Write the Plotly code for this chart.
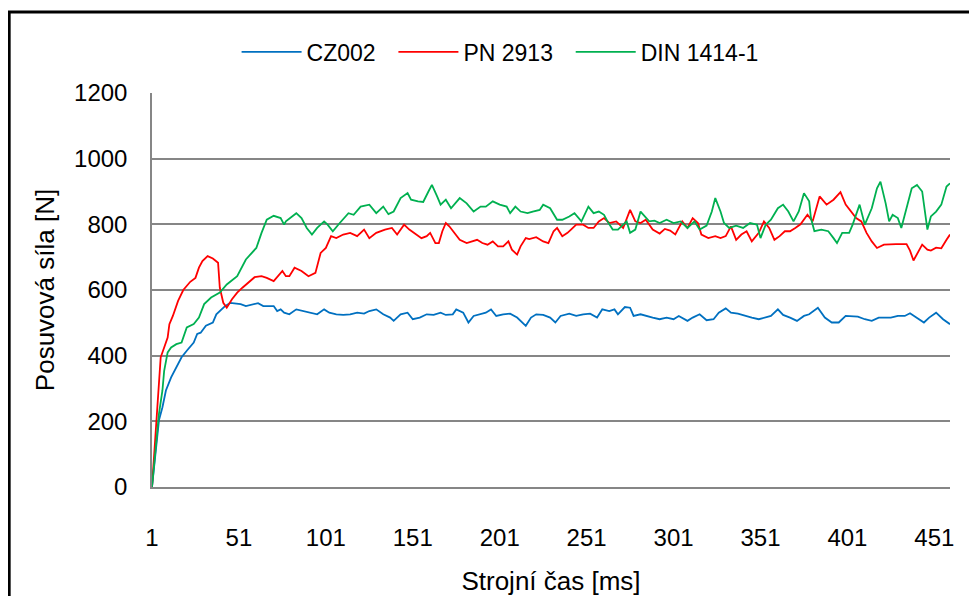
import plotly.graph_objects as go

# hodnoty (strojní čas v ms, posuvová síla v N)
cz002_t = [1, 3, 5, 7, 9, 12, 15, 18, 21, 25, 27, 29, 32, 36, 38, 43, 46, 52, 55, 61, 62, 65, 71, 73, 75, 77, 80,
           84, 88, 92, 96, 100, 103, 107, 111, 115, 119, 123, 126, 130, 134, 138, 140, 144, 148, 151, 155, 159, 163,
           167, 170, 174, 176, 180, 183, 186, 190, 193, 196, 199, 203, 207, 211, 216, 219, 222, 226, 230, 233, 236,
           241, 245, 249, 253, 257, 260, 264, 267, 269, 273, 276, 278, 282, 285, 289, 293, 297, 301, 304, 309, 312,
           316, 320, 324, 327, 331, 334, 338, 342, 346, 350, 354, 357, 361, 364, 368, 372, 376, 379, 384, 388, 392,
           396, 400, 403, 407, 411, 415, 419, 423, 426, 430, 434, 437, 441, 445, 448, 452, 456, 460]
cz002_f = [0, 102, 203, 243, 294, 334, 364, 395, 415, 440, 466, 470, 491, 501, 526, 551, 561, 557, 551, 557, 560, 551,
           551, 536, 541, 531, 526, 541, 536, 531, 526, 541, 531, 526, 524, 526, 531, 528, 536, 541, 526, 516, 506,
           526, 531, 511, 516, 526, 524, 531, 524, 526, 541, 531, 501, 521, 526, 531, 541, 521, 526, 528, 516, 491,
           516, 526, 524, 516, 501, 521, 528, 521, 526, 528, 516, 541, 536, 541, 526, 548, 546, 521, 526, 521, 516,
           511, 516, 511, 521, 506, 516, 526, 508, 511, 531, 544, 531, 528, 521, 516, 511, 516, 521, 541, 524, 516,
           506, 521, 526, 546, 516, 501, 501, 521, 521, 519, 511, 506, 516, 516, 516, 521, 521, 529, 516, 501, 516,
           531, 511, 496]

pn2913_t = [1, 3, 5, 6, 8, 10, 11, 13, 16, 19, 23, 26, 28, 30, 33, 36, 39, 40, 42, 44, 47, 50, 53, 56, 60, 64, 67,
            71, 74, 76, 78, 80, 83, 87, 91, 95, 98, 101, 104, 107, 111, 115, 119, 123, 126, 130, 135, 139, 142, 146,
            149, 153, 156, 159, 161, 164, 166, 168, 170, 172, 175, 178, 182, 185, 188, 191, 194, 197, 200, 203, 206,
            208, 211, 213, 216, 218, 222, 226, 229, 232, 234, 237, 240, 242, 245, 249, 252, 255, 258, 261, 264, 268,
            272, 276, 279, 282, 285, 289, 293, 296, 299, 302, 306, 309, 312, 315, 317, 321, 325, 328, 331, 334, 337,
            340, 343, 346, 350, 353, 356, 359, 362, 365, 368, 371, 374, 378, 381, 385, 389, 393, 397, 400, 403, 406,
            409, 412, 415, 418, 422, 426, 429, 435, 437, 439, 442, 444, 447, 449, 452, 455, 458, 460]
pn2913_f = [0, 173, 344, 395, 425, 455, 496, 521, 567, 600, 625, 637, 668, 688, 703, 696, 683, 607, 561, 546, 572,
            592, 607, 622, 639, 642, 637, 627, 647, 658, 642, 642, 668, 658, 642, 652, 713, 728, 764, 758, 769, 774,
            764, 784, 758, 774, 784, 789, 769, 799, 784, 769, 758, 764, 774, 743, 743, 779, 804, 794, 774, 753, 743,
            748, 753, 743, 738, 748, 733, 733, 748, 723, 708, 733, 758, 755, 761, 748, 743, 779, 789, 764, 774, 784,
            799, 799, 789, 789, 809, 819, 804, 809, 789, 844, 809, 804, 814, 784, 772, 786, 781, 769, 809, 789, 819,
            804, 769, 758, 764, 758, 764, 794, 753, 769, 779, 748, 774, 809, 789, 753, 764, 779, 779, 789, 800, 829,
            809, 885, 860, 875, 898, 860, 839, 819, 809, 774, 748, 728, 738, 740, 740, 740, 720, 690, 720, 738, 723,
            720, 729, 727, 753, 769]

din1414_t = [1, 3, 5, 7, 8, 10, 12, 15, 18, 21, 25, 28, 31, 35, 40, 44, 50, 55, 61, 64, 67, 71, 75, 77, 78, 84, 87,
             90, 93, 96, 100, 102, 105, 109, 114, 117, 121, 126, 130, 134, 137, 140, 144, 148, 150, 154, 157, 160,
             162, 165, 167, 170, 173, 178, 182, 186, 190, 193, 197, 201, 205, 207, 210, 213, 217, 220, 224, 226, 230,
             234, 237, 241, 244, 248, 252, 255, 258, 261, 263, 266, 269, 272, 274, 276, 279, 282, 285, 287, 290, 293,
             297, 301, 305, 309, 313, 316, 320, 323, 325, 328, 330, 333, 337, 341, 345, 349, 351, 354, 357, 361, 364,
             367, 370, 373, 376, 379, 380, 382, 386, 390, 393, 395, 398, 402, 404, 408, 411, 415, 418, 420, 423, 425,
             427, 430, 432, 435, 438, 441, 444, 447, 449, 452, 455, 458, 460]
din1414_f = [0, 122, 223, 294, 354, 410, 425, 435, 440, 486, 496, 516, 557, 577, 592, 617, 642, 693, 728, 774, 814,
             826, 819, 799, 809, 834, 819, 789, 769, 789, 809, 799, 779, 804, 834, 829, 854, 860, 834, 854, 831, 839,
             880, 895, 875, 870, 868, 900, 920, 885, 860, 875, 849, 880, 864, 839, 854, 854, 870, 860, 854, 834, 854,
             839, 834, 839, 844, 860, 849, 814, 814, 824, 834, 809, 854, 834, 839, 829, 809, 784, 784, 799, 809, 774,
             784, 839, 819, 809, 811, 804, 814, 804, 809, 789, 809, 784, 796, 839, 880, 839, 804, 789, 796, 789, 804,
             799, 758, 799, 814, 849, 860, 839, 809, 839, 895, 870, 819, 779, 784, 779, 758, 743, 774, 774, 799, 860,
             799, 849, 910, 930, 864, 809, 829, 819, 789, 849, 910, 920, 900, 784, 824, 839, 860, 915, 925]

x_ticks = [1, 51, 101, 151, 201, 251, 301, 351, 401, 451]
y_ticks = [0, 200, 400, 600, 800, 1000, 1200]

series = [
    ('CZ002', cz002_t, cz002_f, '#0070C0'),
    ('PN 2913', pn2913_t, pn2913_f, '#FF0000'),
    ('DIN 1414-1', din1414_t, din1414_f, '#00B050'),
]

font = 'Arial, Liberation Sans, sans-serif'
pad = '\u00a0\u00a0'  # mezera mezi položkami legendy

fig = go.Figure()
for i, (name, t, f, color) in enumerate(series):
    label = name + pad if i < len(series) - 1 else name
    fig.add_trace(go.Scatter(x=t, y=f, name=label, mode='lines',
                             line=dict(color=color, width=1.8)))

# stránka má 8 px okraj, proto jsou okraje posunuté
fig.update_layout(
    width=977, height=596,
    margin=dict(l=144, r=35, t=85, b=117),
    paper_bgcolor='white', plot_bgcolor='white',
    font=dict(family=font, size=22, color='black'),
    showlegend=True,
    legend=dict(orientation='h', x=0.106, xanchor='left', y=1.104, yanchor='middle',
                font=dict(size=23), itemwidth=60, bgcolor='rgba(0,0,0,0)'),
)
fig.update_xaxes(
    range=[1, 460], tickvals=x_ticks, ticktext=[str(v) for v in x_ticks],
    showgrid=False, zeroline=False, showline=True, linecolor='#868686', linewidth=1.5,
    ticks='', ticklabelstandoff=28, tickfont=dict(size=24),
    title=dict(text='Strojní čas [ms]', font=dict(size=26), standoff=22),
)
fig.update_yaxes(
    range=[0, 1200], tickvals=y_ticks,
    showgrid=True, gridcolor='#868686', gridwidth=1.5, zeroline=False,
    showline=True, linecolor='#868686', linewidth=1.5,
    ticks='', ticklabelstandoff=18, tickfont=dict(size=24),
    title=dict(text='Posuvová síla [N]', font=dict(size=26), standoff=12),
)

# rámeček kolem grafu (jako v Excelu)
fig.add_shape(type='rect', xref='paper', yref='paper',
              x0=-0.179, x1=1.06, y0=-0.35, y1=1.2056,
              line=dict(color='black', width=3), fillcolor='rgba(0,0,0,0)', layer='above')

fig.write_html('out.html')
